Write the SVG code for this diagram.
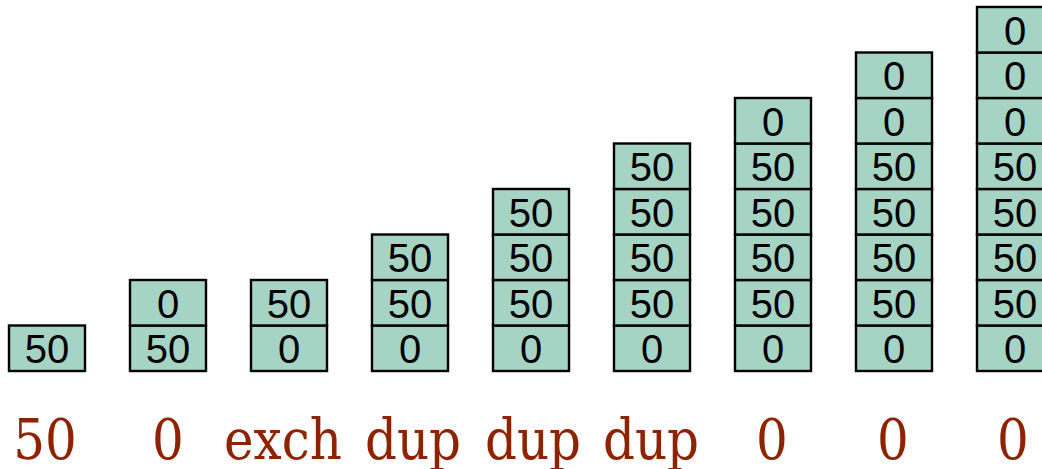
<svg xmlns="http://www.w3.org/2000/svg" width="1042" height="469" viewBox="0 0 1042 469">
<defs>
<style>
.c{fill:#a5d4c5;stroke:#000;stroke-width:2.4}
.t{font-family:"Liberation Sans",Arial,sans-serif;font-size:40px;fill:#000;text-anchor:middle;dominant-baseline:central}
.l{font-family:"DejaVu Serif","Liberation Serif",serif;font-size:50px;fill:#8f2200;text-anchor:middle}
</style>
</defs>
<rect width="1042" height="469" fill="#fff"/>
<g id="stack1">
<rect class="c" x="9" y="325.5" width="76" height="45.5"/><text class="t" x="47" y="349">50</text>
</g>
<g id="stack2">
<rect class="c" x="130" y="325.5" width="76" height="45.5"/><text class="t" x="168" y="349">50</text>
<rect class="c" x="130" y="280" width="76" height="45.5"/><text class="t" x="168" y="303.5">0</text>
</g>
<g id="stack3">
<rect class="c" x="251" y="325.5" width="76" height="45.5"/><text class="t" x="289" y="349">0</text>
<rect class="c" x="251" y="280" width="76" height="45.5"/><text class="t" x="289" y="303.5">50</text>
</g>
<g id="stack4">
<rect class="c" x="372" y="325.5" width="76" height="45.5"/><text class="t" x="410" y="349">0</text>
<rect class="c" x="372" y="280" width="76" height="45.5"/><text class="t" x="410" y="303.5">50</text>
<rect class="c" x="372" y="234.5" width="76" height="45.5"/><text class="t" x="410" y="258">50</text>
</g>
<g id="stack5">
<rect class="c" x="493" y="325.5" width="76" height="45.5"/><text class="t" x="531" y="349">0</text>
<rect class="c" x="493" y="280" width="76" height="45.5"/><text class="t" x="531" y="303.5">50</text>
<rect class="c" x="493" y="234.5" width="76" height="45.5"/><text class="t" x="531" y="258">50</text>
<rect class="c" x="493" y="189" width="76" height="45.5"/><text class="t" x="531" y="212.5">50</text>
</g>
<g id="stack6">
<rect class="c" x="614" y="325.5" width="76" height="45.5"/><text class="t" x="652" y="349">0</text>
<rect class="c" x="614" y="280" width="76" height="45.5"/><text class="t" x="652" y="303.5">50</text>
<rect class="c" x="614" y="234.5" width="76" height="45.5"/><text class="t" x="652" y="258">50</text>
<rect class="c" x="614" y="189" width="76" height="45.5"/><text class="t" x="652" y="212.5">50</text>
<rect class="c" x="614" y="143.5" width="76" height="45.5"/><text class="t" x="652" y="167">50</text>
</g>
<g id="stack7">
<rect class="c" x="735" y="325.5" width="76" height="45.5"/><text class="t" x="773" y="349">0</text>
<rect class="c" x="735" y="280" width="76" height="45.5"/><text class="t" x="773" y="303.5">50</text>
<rect class="c" x="735" y="234.5" width="76" height="45.5"/><text class="t" x="773" y="258">50</text>
<rect class="c" x="735" y="189" width="76" height="45.5"/><text class="t" x="773" y="212.5">50</text>
<rect class="c" x="735" y="143.5" width="76" height="45.5"/><text class="t" x="773" y="167">50</text>
<rect class="c" x="735" y="98" width="76" height="45.5"/><text class="t" x="773" y="121.5">0</text>
</g>
<g id="stack8">
<rect class="c" x="856" y="325.5" width="76" height="45.5"/><text class="t" x="894" y="349">0</text>
<rect class="c" x="856" y="280" width="76" height="45.5"/><text class="t" x="894" y="303.5">50</text>
<rect class="c" x="856" y="234.5" width="76" height="45.5"/><text class="t" x="894" y="258">50</text>
<rect class="c" x="856" y="189" width="76" height="45.5"/><text class="t" x="894" y="212.5">50</text>
<rect class="c" x="856" y="143.5" width="76" height="45.5"/><text class="t" x="894" y="167">50</text>
<rect class="c" x="856" y="98" width="76" height="45.5"/><text class="t" x="894" y="121.5">0</text>
<rect class="c" x="856" y="52.5" width="76" height="45.5"/><text class="t" x="894" y="76">0</text>
</g>
<g id="stack9">
<rect class="c" x="977" y="325.5" width="76" height="45.5"/><text class="t" x="1015" y="349">0</text>
<rect class="c" x="977" y="280" width="76" height="45.5"/><text class="t" x="1015" y="303.5">50</text>
<rect class="c" x="977" y="234.5" width="76" height="45.5"/><text class="t" x="1015" y="258">50</text>
<rect class="c" x="977" y="189" width="76" height="45.5"/><text class="t" x="1015" y="212.5">50</text>
<rect class="c" x="977" y="143.5" width="76" height="45.5"/><text class="t" x="1015" y="167">50</text>
<rect class="c" x="977" y="98" width="76" height="45.5"/><text class="t" x="1015" y="121.5">0</text>
<rect class="c" x="977" y="52.5" width="76" height="45.5"/><text class="t" x="1015" y="76">0</text>
<rect class="c" x="977" y="7" width="76" height="45.5"/><text class="t" x="1015" y="30.5">0</text>
</g>
<g id="labels" transform="translate(0,459) scale(1,1.12)">
<text class="l" x="45" y="0">50</text>
<text class="l" x="168" y="0">0</text>
<text class="l" x="283" y="0">exch</text>
<text class="l" x="413" y="0">dup</text>
<text class="l" x="533" y="0">dup</text>
<text class="l" x="651" y="0">dup</text>
<text class="l" x="772" y="0">0</text>
<text class="l" x="893" y="0">0</text>
<text class="l" x="1013" y="0">0</text>
</g>
</svg>
